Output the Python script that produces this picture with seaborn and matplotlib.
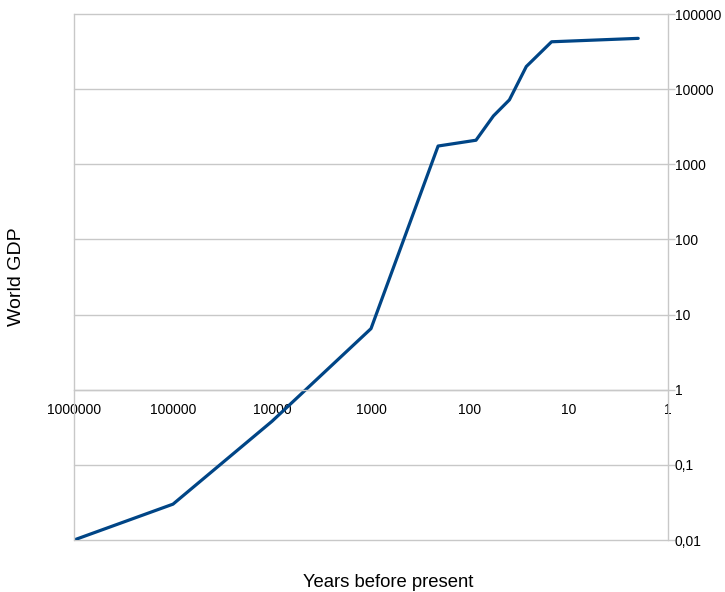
import pandas as pd
import matplotlib
matplotlib.use("Agg")
import matplotlib.pyplot as plt
import matplotlib.ticker as mticker
import seaborn as sns

# data
years_before = [1000000, 100000, 10000, 1000, 210, 87, 58, 40, 27, 15, 2]
world_gdp = [0.01, 0.03, 0.38, 6.5, 1750, 2090, 4400, 7200, 20000, 42700, 47400]

x_ticks = [1000000, 100000, 10000, 1000, 100, 10, 1]
x_labels = ["1000000", "100000", "10000", "1000", "100", "10", "1"]
y_ticks = [0.01, 0.1, 1, 10, 100, 1000, 10000, 100000]
y_labels = ["0,01", "0,1", "1", "10", "100", "1000", "10000", "100000"]

df = pd.DataFrame({"years": years_before, "gdp": world_gdp})

sns.set_style("white")
plt.rcParams["font.family"] = ["Liberation Sans", "DejaVu Sans"]
plt.rcParams["text.color"] = "black"
plt.rcParams["xtick.labelcolor"] = "black"
plt.rcParams["ytick.labelcolor"] = "black"

fig = plt.figure(figsize=(7.25, 5.92), dpi=100)
ax = fig.add_axes([74 / 725, 1 - 540 / 592, 594 / 725, 526 / 592])

sns.lineplot(data=df, x="years", y="gdp", color="#004586", linewidth=2.3, ax=ax)

ax.set_xscale("log")
ax.set_yscale("log")
ax.set_xlim(1000000, 1)
ax.set_ylim(0.01, 100000)

grid_col = "#c8c8c8"
ax.set_xticks(x_ticks)
ax.set_xticklabels(x_labels)
ax.set_yticks(y_ticks)
ax.set_yticklabels(y_labels)
ax.xaxis.set_minor_locator(mticker.NullLocator())
ax.yaxis.set_minor_locator(mticker.NullLocator())

# horizontal grid lines, bottom one included
for yv in y_ticks:
    ax.axhline(yv, color=grid_col, linewidth=1, zorder=0, clip_on=False)

# spines: left/right light gray, x axis sitting at y = 1
ax.spines["top"].set_visible(False)
ax.spines["bottom"].set_position(("data", 1))
for s in ["left", "right", "bottom"]:
    ax.spines[s].set_color(grid_col)
    ax.spines[s].set_linewidth(1)

ax.yaxis.tick_right()
ax.tick_params(axis="y", which="major", direction="out", length=5, width=1,
               color=grid_col, labelsize=10, pad=0, left=False, right=True)
ax.tick_params(axis="x", which="major", direction="inout", length=5, width=1,
               color=grid_col, labelsize=10, pad=7)

# axis titles
ax.set_xlabel("")
ax.set_ylabel("")
fig.text(388 / 725, 1 - 587 / 592, "Years before present", fontsize=13.3,
         ha="center", va="baseline")
fig.text(17 / 725, 1 - 277 / 592, "World GDP", fontsize=14, rotation=90,
         ha="center", va="center")

fig.savefig("out.png", dpi=100)
